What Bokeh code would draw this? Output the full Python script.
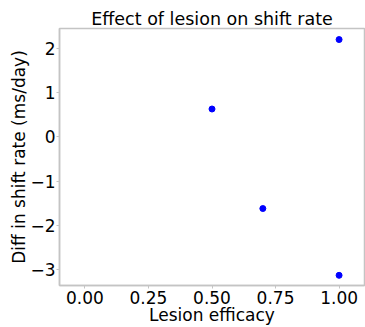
from bokeh.plotting import figure
from bokeh.models import Range1d, FixedTicker
from bokeh.embed import file_html
from bokeh.resources import INLINE

lesion_efficacy = [0.5, 0.7, 1.0, 1.0]
diff_shift_rate = [0.63, -1.62, 2.2, -3.13]

x_ticks = [0.0, 0.25, 0.5, 0.75, 1.0]
x_tick_labels = ["0.00", "0.25", "0.50", "0.75", "1.00"]
y_ticks = [-3, -2, -1, 0, 1, 2]
y_tick_labels = ["\u22123", "\u22122", "\u22121", "0", "1", "2"]

FONT = "DejaVu Sans"
GRAY = "#c4c4c4"

p = figure(width=365, height=327, output_backend="svg",
           toolbar_location=None, title="Effect of lesion on shift rate",
           x_range=Range1d(-0.1, 1.1), y_range=Range1d(-3.36, 2.45),
           min_border_left=59, min_border_right=1, min_border_top=28, min_border_bottom=39)

p.scatter(lesion_efficacy, diff_shift_rate, size=6, color="#0000ff")

p.title.text_font = FONT
p.title.text_font_size = "17.5px"
p.title.text_font_style = "normal"
p.title.align = "center"
p.title.text_color = "#000000"
p.title.standoff = -1

p.xgrid.visible = False
p.ygrid.visible = False
p.outline_line_color = GRAY
p.outline_line_width = 1.5

p.xaxis.ticker = FixedTicker(ticks=x_ticks)
p.xaxis.major_label_overrides = dict(zip(x_ticks, x_tick_labels))
p.yaxis.ticker = FixedTicker(ticks=y_ticks)
p.yaxis.major_label_overrides = dict(zip(y_ticks, y_tick_labels))
p.xaxis.axis_label = "Lesion efficacy"
p.yaxis.axis_label = "Diff in shift rate (ms/day)"

for ax in (p.xaxis, p.yaxis):
    ax.axis_line_color = GRAY
    ax.axis_line_width = 1.5
    ax.major_tick_line_color = GRAY
    ax.major_tick_in = 0
    ax.major_tick_out = 3
    ax.minor_tick_line_color = None
    ax.major_label_text_font = FONT
    ax.major_label_text_font_size = "17px"
    ax.major_label_text_color = "#000000"
    ax.axis_label_text_font = FONT
    ax.axis_label_text_font_size = "17px"
    ax.axis_label_text_font_style = "normal"
    ax.axis_label_text_color = "#000000"

p.xaxis.major_label_standoff = 2
p.xaxis.axis_label_standoff = -2
p.yaxis.major_label_standoff = 1
p.yaxis.axis_label_standoff = -2
p.yaxis.major_label_orientation = "horizontal"

open("out.html", "w").write(file_html(p, INLINE))
